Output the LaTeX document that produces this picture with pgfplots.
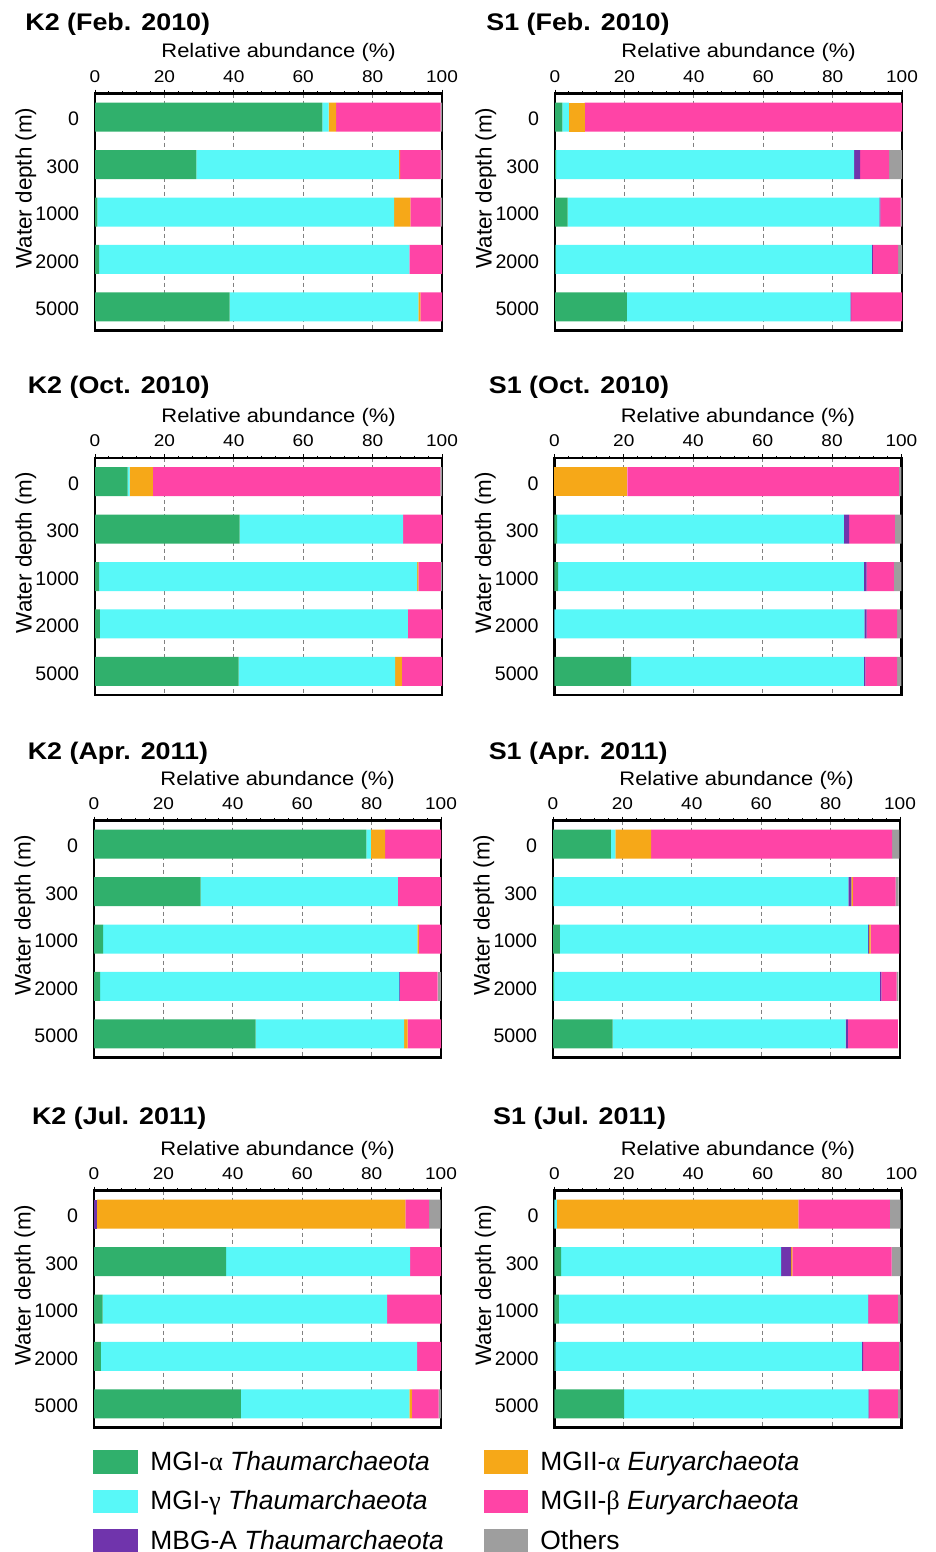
\documentclass[border=0pt]{standalone}
\usepackage{fontspec}
\setmainfont{Liberation Sans}
\newfontfamily\panelfont{Liberation Sans}[FakeStretch=1.12]
\newfontfamily\greekfont{Liberation Serif}
\usepackage{pgfplots}
\usepackage{pgfplotstable}
\pgfplotsset{compat=1.18}

\definecolor{mgia}{RGB}{48,176,108}
\definecolor{mgig}{RGB}{88,248,248}
\definecolor{mbga}{RGB}{112,52,172}
\definecolor{mgiia}{RGB}{246,168,24}
\definecolor{mgiib}{RGB}{255,68,166}
\definecolor{others}{RGB}{158,158,158}

% columns: d = depth index (0,300,1000,2000,5000 m), a = MGI-alpha, g = MGI-gamma,
% m = MBG-A, ea = MGII-alpha, eb = MGII-beta, o = others  (relative abundance, %)
\pgfplotstableread{
d a g m ea eb o
0 65.5 1.8 0 2.2 30.1 0.4
1 29.2 58.4 0 0.3 11.7 0.4
2 0.7 85.5 0 4.7 8.7 0.4
3 1.2 89.4 0 0 9.4 0
4 38.8 54.4 0 0.6 6.2 0
}\kFeb
\pgfplotstableread{
d a g m ea eb o
0 2.1 1.9 0 4.5 91.5 0
1 0.3 85.9 1.7 0 8.4 3.7
2 3.6 89.9 0.3 0 5.8 0.4
3 0.2 91.1 0.3 0 7.3 1.1
4 20.7 64.4 0.2 0 14.7 0
}\sFeb
\pgfplotstableread{
d a g m ea eb o
0 9.4 0.6 0 6.7 82.8 0.5
1 41.7 47.1 0 0 11.2 0
2 1.2 91.6 0 0.4 6.5 0.3
3 1.4 88.8 0 0 9.8 0
4 41.4 45.1 0 1.9 11.6 0
}\kOct
\pgfplotstableread{
d a g m ea eb o
0 0 0 0 21.0 78.3 0.7
1 0.8 82.6 1.5 0 13.2 1.9
2 1.1 88.1 0.8 0 7.8 2.2
3 0 89.3 0.7 0 8.8 1.2
4 22.1 67.1 0.4 0 9.2 1.2
}\sOct
\pgfplotstableread{
d a g m ea eb o
0 78.5 1.3 0 4.1 16.1 0
1 30.7 56.9 0 0 12.4 0
2 2.6 90.6 0 0.4 6.4 0
3 1.8 86.2 0.2 0 10.8 1.0
4 46.6 42.8 0 1.0 9.6 0
}\kApr
\pgfplotstableread{
d a g m ea eb o
0 16.7 1.3 0 10.3 69.4 2.1
1 0.2 84.9 0.9 0.4 12.3 0.9
2 2.0 88.8 0.3 0.4 8.3 0
3 0.3 93.9 0.4 0 4.4 0.5
4 17.2 67.1 0.7 0 14.4 0
}\sApr
\pgfplotstableread{
d a g m ea eb o
0 0 0 0.9 88.8 6.9 3.3
1 38.1 53.0 0 0 8.9 0
2 2.5 82.0 0 0 15.5 0
3 2.0 91.1 0 0 6.9 0
4 42.3 48.6 0 0.7 7.7 0.7
}\kJul
\pgfplotstableread{
d a g m ea eb o
0 0 0.7 0 69.6 26.4 3.1
1 1.9 63.4 2.9 0.4 28.6 2.6
2 1.3 89.0 0.2 0 8.5 0.8
3 0.3 88.3 0.4 0 10.3 0.5
4 20.1 70.4 0.2 0 8.3 0.8
}\sJul

\pgfplotsset{
  panel/.style={
    scale only axis, width=173.5pt, height=118.5pt,
    anchor=north west, clip=false,
    xbar stacked, bar width=14.5pt,
    xmin=0, xmax=100, ymin=-0.5, ymax=4.5, y dir=reverse,
    ytick={0,1,2,3,4}, yticklabels={0,300,1000,2000,5000},
    ytick style={draw=none},
    yticklabel style={font=\fontsize{9.8}{11}\selectfont, inner sep=0pt, xshift=-7.75pt, yshift=-1pt},
    xtick={0,20,40,60,80,100}, minor x tick num=4,
    xtick pos=right, xticklabel pos=right,
    xtick align=outside,
    major tick length=2pt, minor tick length=1.1pt,
    every tick/.style={black, line width=0.5pt},
    xticklabel style={font=\panelfont\fontsize{8.5}{10}\selectfont},
    /pgf/number format/assume math mode=true,
    xmajorgrids,
    major grid style={gray, line width=0.5pt, dash pattern=on 2pt off 1.5pt},
    axis line style={line width=1.1pt},
    xlabel={Relative abundance (\%)},
    xlabel style={font=\panelfont\fontsize{9.8}{11}\selectfont,
      at={(axis description cs:0.529,1.1498)}, anchor=base},
    ylabel={Water depth (m)},
    ylabel style={font=\fontsize{11.2}{13}\selectfont,
      at={(axis description cs:-0.1824,0.601)}, anchor=base},
    title style={font=\panelfont\bfseries\fontsize{12}{14}\selectfont, anchor=base west},
    every axis plot/.append style={draw=none},
  }
}

% one panel: #1,#2 = upper-left corner of the plot box, #3 = table, #4 = title,
% #5,#6 = title position in axis description units
\newcommand\panel[6]{%
  \begin{axis}[panel, at={(#1,#2)}, title={#4},
      title style={at={(axis description cs:#5,#6)}}]
    \addplot[fill=mgia]   table[x=a,  y=d]{#3};
    \addplot[fill=mgig]   table[x=g,  y=d]{#3};
    \addplot[fill=mbga]   table[x=m,  y=d]{#3};
    \addplot[fill=mgiia]  table[x=ea, y=d]{#3};
    \addplot[fill=mgiib]  table[x=eb, y=d]{#3};
    \addplot[fill=others] table[x=o,  y=d]{#3};
    \draw[line width=1.1pt] (rel axis cs:0,0) rectangle (rel axis cs:1,1);
  \end{axis}}

\begin{document}
\begin{tikzpicture}
\path[use as bounding box] (0,0) rectangle (468pt,-776pt);

\panel{47.5pt}{-46.75pt}{\kFeb}{K2 (Feb. 2010)}{-0.2210}{1.2144}
\panel{277.5pt}{-46.75pt}{\sFeb}{S1 (Feb. 2010)}{-0.2182}{1.2144}
\panel{47.5pt}{-229pt}{\kOct}{K2 (Oct. 2010)}{-0.2141}{1.2224}
\panel{277.2pt}{-229pt}{\sOct}{S1 (Oct. 2010)}{-0.2092}{1.2224}
\panel{47pt}{-410.25pt}{\kApr}{K2 (Apr. 2011)}{-0.2112}{1.2089}
\panel{276.5pt}{-410.25pt}{\sApr}{S1 (Apr. 2011)}{-0.2055}{1.2089}
\panel{47pt}{-595.25pt}{\kJul}{K2 (Jul. 2011)}{-0.1988}{1.2270}
\panel{277.2pt}{-595.25pt}{\sJul}{S1 (Jul. 2011)}{-0.1968}{1.2270}

% legend
\begin{scope}[every node/.style={anchor=base west, inner sep=0pt, font=\fontsize{13.2}{15}\selectfont}]
\fill[mgia]   (46.5pt,-725pt)    rectangle (68.75pt,-736.75pt);
\fill[mgig]   (46.5pt,-744.75pt) rectangle (68.75pt,-756.5pt);
\fill[mbga]   (46.5pt,-764.5pt)  rectangle (68.75pt,-776pt);
\fill[mgiia]  (242pt,-725pt)     rectangle (264pt,-736.75pt);
\fill[mgiib]  (242pt,-744.75pt)  rectangle (264pt,-756.5pt);
\fill[others] (242pt,-764.5pt)   rectangle (264pt,-776pt);
\node at (75pt,-735pt)    {MGI-{\greekfont α} \textit{Thaumarchaeota}};
\node at (75pt,-754.7pt)  {MGI-{\greekfont γ} \textit{Thaumarchaeota}};
\node at (75pt,-774.7pt)  {MBG-A \textit{Thaumarchaeota}};
\node at (270pt,-735pt)   {MGII-{\greekfont α} \textit{Euryarchaeota}};
\node at (270pt,-754.7pt) {MGII-{\greekfont β} \textit{Euryarchaeota}};
\node at (270pt,-774.7pt) {Others};
\end{scope}
\end{tikzpicture}
\end{document}
